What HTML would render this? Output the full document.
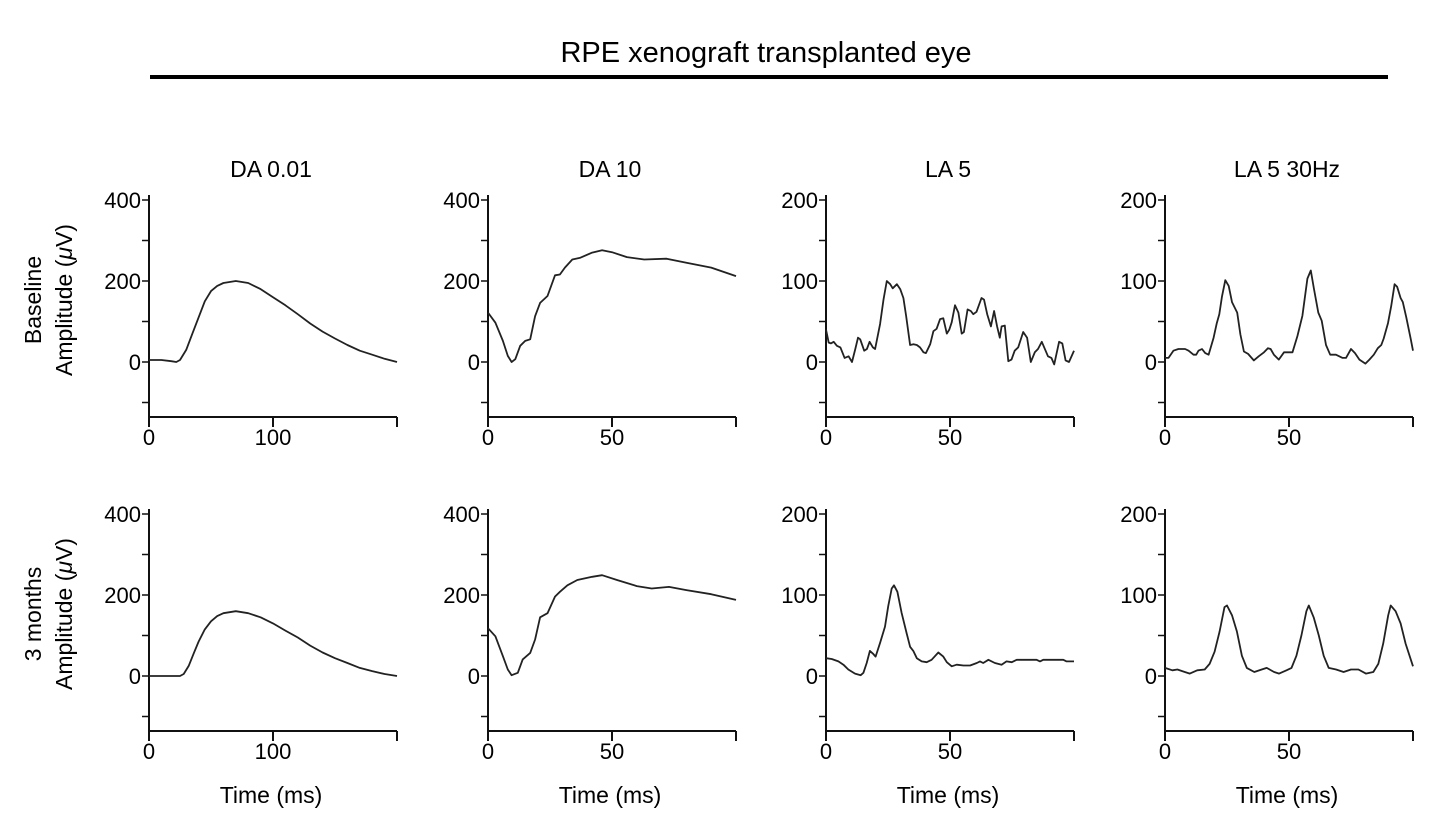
<!DOCTYPE html>
<html><head><meta charset="utf-8"><style>
body{margin:0;background:#fff}
svg{display:block;font-family:"Liberation Sans",Arial,sans-serif}
</style></head><body>
<svg id="fig" width="1430" height="840" viewBox="0 0 1430 840">
<text x="766" y="62" font-size="29" text-anchor="middle">RPE xenograft transplanted eye</text>
<line x1="150" y1="77" x2="1388" y2="77" stroke="#000" stroke-width="4"/>
<g id="panels"></g>
</svg>
<script>
const panelTitles = ["DA 0.01","DA 10","LA 5","LA 5 30Hz"];
const rowLabels = ["Baseline","3 months"];
const t_da001 = [0,10,18,22,25,30,35,40,45,50,55,60,70,80,90,100,110,120,130,140,150,160,170,180,190,200];
const v_da001_base = [5,5,2,0,5,30,70,110,150,175,188,195,200,195,180,160,140,118,95,75,58,42,28,18,8,0];
const t_da001_m3 = [0,10,20,25,28,32,36,40,45,50,55,60,70,80,90,100,110,120,130,140,150,160,170,180,190,200];
const v_da001_m3 = [0,0,0,0,5,25,55,85,115,135,148,155,160,155,145,130,112,95,75,58,44,32,20,12,5,0];
const t_da10_base = [0,3,6,8,9.5,11,13,15,17,19,21,24,27,29,31,34,37,42,46,50,56,63,72,80,90,100];
const v_da10_base = [122,97,52,15,0,7,40,52,56,113,146,163,214,216,233,253,257,270,276,271,259,253,255,245,233,212];
const t_da10_m3 = [0,3,6,8,9.5,12,14,17,19,21,24,27,29,32,36,42,46,52,60,66,73,80,90,100];
const v_da10_m3 = [118,98,49,16,2,8,41,57,90,145,155,196,208,224,237,245,249,237,222,216,220,212,202,188];
const t_la5_base = [0,1.1,2,3.1,4.4,5.8,7.5,9.1,10.5,11.8,12.9,13.8,15.4,16.5,17.6,18.9,19.8,21.8,23.2,24.5,25.9,26.9,28.6,29.9,31.2,32.3,33.9,35.3,36.6,37.9,39.3,40.3,42,43.3,44.6,46,47.3,48.7,49.7,50.7,52,53.4,54.7,55.6,57.1,58.4,59.4,60.7,62.7,63.7,65,66.5,67.8,69,70.1,70.8,72.1,73.5,74.8,76.1,77.5,79.5,81.1,82.6,84.2,85.5,87,89.5,90.9,92,94,95.3,96.6,98,100];
const v_la5_base = [40,24,23,25,20,18,5,7,0,16,30,28,14,16,25,18,16,47,77,100,96,91,96,90,79,57,21,22,21,18,12,11,22,38,41,53,54,35,40,49,70,61,35,37,65,63,59,62,79,77,59,44,63,44,30,44,45,1,3,14,18,37,30,0,12,16,25,7,5,-3,25,23,2,0,14];
const t_la5_m3 = [0,2.3,5,7,9,11.7,14,15.1,16.4,17.7,19.1,20,21.8,23.8,25.1,26.5,27.4,28.8,30.5,32.5,33.9,35.2,36.6,38.6,40.6,42.6,45.3,47.3,48.7,50.7,52.7,55.4,58.1,60.8,62.1,63.4,65.5,68.1,70.8,72.8,74.9,76.9,84.9,86.3,87.6,95.7,97,100];
const v_la5_m3 = [22,21,18,14,8,3,1,4,16,31,27,24,41,61,86,108,112,104,78,53,36,31,22,18,17,20,29,24,17,12,14,13,13,16,18,16,20,16,14,18,17,20,20,18,20,20,18,18];
const t_hz_base = [0,1.4,3.4,5.4,8.1,9.5,11.5,12.6,13.5,14.9,16.2,17.6,19.6,20.9,21.9,23,24.3,25.7,27,29.1,30.4,31.8,33.5,35.8,37.8,39.9,41.5,42.6,43.9,45.9,48,49.6,51.4,53.4,55.4,57.4,58.8,60.1,61.8,63.2,64.9,66.6,68.9,71.6,73,75,76.6,78.4,80.8,82.4,84.2,85.8,87.2,88.2,89.9,91.2,92.6,93.6,95,95.9,97.3,99.1,100];
const v_hz_base = [5,5,14,16,16,14,9,9,14,16,11,9,30,48,59,81,101,94,74,61,34,13,10,2,7,12,17,16,9,3,12,12,12,32,57,103,113,90,61,51,21,9,9,5,5,16,11,3,-2,3,9,17,21,29,48,69,96,93,79,74,55,28,14];
const t_hz_m3 = [0,3,5,8,10,13,16,18,20,22,24,25,27,29,31,33,36,39,41,44,46,49,51,53,55,57,58,60,62,64,66,69,72,75,78,81,84,86,88,90,91,93,95,97,100];
const v_hz_m3 = [10,7,8,5,3,7,8,15,30,55,85,87,75,55,25,10,5,8,10,5,3,7,10,25,50,80,87,72,50,25,10,8,5,8,8,3,5,15,40,75,87,80,65,40,12];
const daYTicks = [-100,0,100,200,300,400];
const daYLabels = [0,200,400];
const laYTicks = [-50,0,50,100,150,200];
const laYLabels = [0,100,200];
const xTicks200 = [0,100,200];
const xLabels200 = [0,100];
const xTicks100 = [0,50,100];
const xLabels100 = [0,50];

const series = [
 [[t_da001,v_da001_base],[t_da10_base,v_da10_base],[t_la5_base,v_la5_base],[t_hz_base,v_hz_base]],
 [[t_da001_m3,v_da001_m3],[t_da10_m3,v_da10_m3],[t_la5_m3,v_la5_m3],[t_hz_m3,v_hz_m3]]
];
const NS="http://www.w3.org/2000/svg";
const root=document.getElementById('panels');
const colX=[149,488,826,1165], W=248, rowZero=[362,676];
function mk(tag,attrs,parent){const e=document.createElementNS(NS,tag);for(const k in attrs)e.setAttribute(k,attrs[k]);parent.appendChild(e);return e;}
for(let r=0;r<2;r++){
  const rl=mk('text',{x:0,y:0,'font-size':23,'text-anchor':'middle',transform:`translate(41,${rowZero[r]-62}) rotate(-90)`},root);
  
  
  rl.textContent=rowLabels[r];
  const al=mk('text',{x:0,y:0,'font-size':23,'text-anchor':'middle',transform:`translate(72,${rowZero[r]-62}) rotate(-90)`},root);
  
  
  al.innerHTML='Amplitude (<tspan font-style="italic">μ</tspan>V)';
  for(let c=0;c<4;c++){
    const g=mk('g',{},root);
    
    
    const x0=colX[c], y0=rowZero[r];
    const isDA=c<2;
    const k=isDA?0.405:0.81;
    const xmax=c===0?200:100;
    const sx=t=>x0+t/xmax*W;
    const sy=v=>y0-v*k;
    const top=y0-167, bot=y0+55;
    if(r===0){
      const tt=mk('text',{x:x0+W/2-2,y:177,'font-size':23,'text-anchor':'middle'},g);
      
      
      tt.textContent=panelTitles[c];
    }
    const ya=mk('line',{x1:x0,y1:top,x2:x0,y2:bot,stroke:'#111','stroke-width':2},g);
    
    
    const xa=mk('line',{x1:x0-1,y1:bot,x2:x0+W,y2:bot,stroke:'#111','stroke-width':2},g);
    
    
    (isDA?daYTicks:laYTicks).forEach(v=>{
      const tk=mk('line',{x1:x0-7,y1:sy(v),x2:x0,y2:sy(v),stroke:'#111','stroke-width':1.5},g);
      
      
    });
    (isDA?daYLabels:laYLabels).forEach(v=>{
      const tl=mk('text',{x:x0-8,y:sy(v)+8,'font-size':22,'text-anchor':'end'},g);
      
      
      tl.textContent=v;
    });
    (c===0?xTicks200:xTicks100).forEach(v=>{
      const tk=mk('line',{x1:sx(v),y1:bot,x2:sx(v),y2:bot+10,stroke:'#111','stroke-width':2},g);
      
      
    });
    (c===0?xLabels200:xLabels100).forEach(v=>{
      const tl=mk('text',{x:sx(v),y:bot+28,'font-size':22,'text-anchor':'middle'},g);
      
      
      tl.textContent=v;
    });
    if(r===1){
      const xt=mk('text',{x:x0+W/2-2,y:803,'font-size':23,'text-anchor':'middle'},g);
      
      
      xt.textContent='Time (ms)';
    }
    const [ts,vs]=series[r][c];
    const d=ts.map((t,i)=>(i?'L':'M')+sx(t).toFixed(1)+','+sy(vs[i]).toFixed(1)).join('');
    const p=mk('path',{d:d,fill:'none',stroke:'#222','stroke-width':1.8,'stroke-linejoin':'round'},g);
    
    
  }
}
</script>
</body></html>
